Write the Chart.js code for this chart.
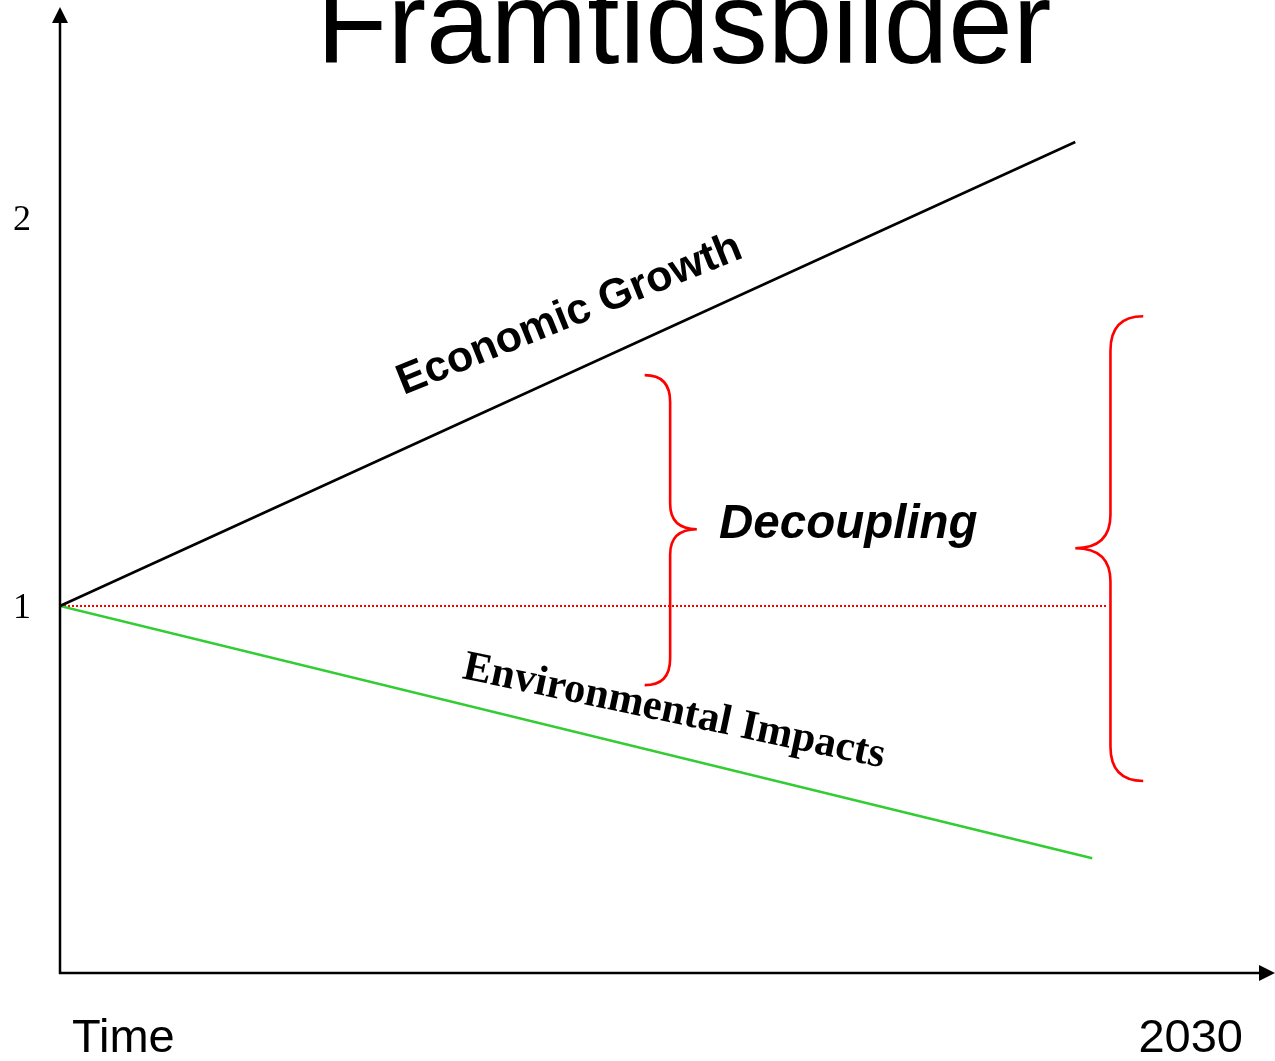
<!DOCTYPE html>
<html>
<head>
<meta charset="utf-8">
<script src="https://cdn.jsdelivr.net/npm/chart.js@4/dist/chart.umd.min.js"></script>
<style>
  html, body { margin: 0; padding: 0; background: #ffffff; }
  #wrap { width: 1275px; height: 1061px; position: relative; }
</style>
</head>
<body>
<div id="wrap"><canvas id="c"></canvas></div>
<script>
// ---- Data ----
const chartTitle = 'Framtidsbilder';
const xEndLabels = ['Time', '2030'];
const yTickValues = [1, 2];

const economicX = [0, 83.7];
const economicY = [1, 2.196];

const environmentX = [0, 85.1];
const environmentY = [1, 0.35];

const baselineX = [0, 86.4];
const baselineY = [1, 1];

// Decoupling braces: value ranges they span
const smallBraceX = [48.2, 50.3, 52.5];   // tip, spine, point
const smallBraceY = [1.595, 1.198, 0.796]; // top, middle, bottom
const largeBraceX = [89.3, 86.6, 83.7];
const largeBraceY = [1.747, 1.149, 0.549];

const seriesLabels = ['Economic Growth', 'Environmental Impacts', 'Decoupling'];

const toPoints = (xs, ys) => xs.map((x, i) => ({ x: x, y: ys[i] }));

const decorPlugin = {
  id: 'decor',
  afterDatasetsDraw(chart) {
    const ctx = chart.ctx;
    const xs = chart.scales.x, ys = chart.scales.y;
    const ca = chart.chartArea;
    const W = chart.width;
    ctx.save();

    // Axes with arrows
    ctx.strokeStyle = '#000';
    ctx.fillStyle = '#000';
    ctx.lineWidth = 2.5;
    const ox = ca.left, oy = ca.bottom;
    ctx.beginPath();
    ctx.moveTo(ox, oy + 1);
    ctx.lineTo(ox, ca.top + 14);
    ctx.stroke();
    ctx.beginPath();
    ctx.moveTo(ox, ca.top);
    ctx.lineTo(ox - 8, ca.top + 16);
    ctx.lineTo(ox + 8, ca.top + 16);
    ctx.closePath();
    ctx.fill();
    ctx.beginPath();
    ctx.moveTo(ox - 1, oy);
    ctx.lineTo(W - 12, oy);
    ctx.stroke();
    ctx.beginPath();
    ctx.moveTo(W, oy);
    ctx.lineTo(W - 16, oy - 8);
    ctx.lineTo(W - 16, oy + 8);
    ctx.closePath();
    ctx.fill();

    // Y tick labels
    ctx.font = '36px "Liberation Serif", "Times New Roman", serif';
    ctx.textAlign = 'center';
    ctx.textBaseline = 'middle';
    yTickValues.forEach(v => {
      ctx.fillText(String(v), 22, ys.getPixelForValue(v) + 3);
    });

    // X end labels
    ctx.font = '47px "Liberation Sans", Arial, sans-serif';
    ctx.textBaseline = 'alphabetic';
    ctx.textAlign = 'left';
    ctx.fillText(xEndLabels[0], 72, 1052);
    ctx.textAlign = 'right';
    ctx.fillText(xEndLabels[1], 1243, 1052);

    // Title
    ctx.font = '116px "Liberation Sans", Arial, sans-serif';
    ctx.textAlign = 'center';
    ctx.fillText(chartTitle, 684, 63);

    // Braces
    ctx.strokeStyle = '#ff0000';
    ctx.lineWidth = 2.6;
    const brace = (bx, by) => {
      const tip = xs.getPixelForValue(bx[0]);
      const sp = xs.getPixelForValue(bx[1]);
      const pt = xs.getPixelForValue(bx[2]);
      const top = ys.getPixelForValue(by[0]);
      const mid = ys.getPixelForValue(by[1]);
      const bot = ys.getPixelForValue(by[2]);
      const r = Math.abs(sp - tip) * 1.05;
      const r2 = Math.abs(pt - sp) * 0.95;
      ctx.beginPath();
      ctx.moveTo(tip, top);
      ctx.quadraticCurveTo(sp, top, sp, top + r);
      ctx.lineTo(sp, mid - r2);
      ctx.quadraticCurveTo(sp, mid, pt, mid);
      ctx.quadraticCurveTo(sp, mid, sp, mid + r2);
      ctx.lineTo(sp, bot - r);
      ctx.quadraticCurveTo(sp, bot, tip, bot);
      ctx.stroke();
    };
    brace(smallBraceX, smallBraceY);
    brace(largeBraceX, largeBraceY);

    // Line labels
    ctx.fillStyle = '#000';
    ctx.save();
    ctx.translate(574, 326);
    ctx.rotate(-22 * Math.PI / 180);
    ctx.font = 'bold 43px "Liberation Sans", Arial, sans-serif';
    ctx.textAlign = 'center';
    ctx.textBaseline = 'alphabetic';
    ctx.fillText(seriesLabels[0], 0, 0);
    ctx.restore();

    ctx.save();
    ctx.translate(674, 712);
    ctx.rotate(12 * Math.PI / 180);
    ctx.font = 'bold 42.5px "Liberation Serif", "Times New Roman", serif';
    ctx.textAlign = 'center';
    ctx.textBaseline = 'middle';
    ctx.fillText(seriesLabels[1], 0, 0);
    ctx.restore();

    ctx.font = 'italic bold 47.5px "Liberation Sans", Arial, sans-serif';
    ctx.textAlign = 'left';
    ctx.textBaseline = 'alphabetic';
    ctx.fillText(seriesLabels[2], 719, 538);

    ctx.restore();
  }
};

new Chart(document.getElementById('c'), {
  type: 'line',
  data: {
    datasets: [
      {
        label: seriesLabels[0],
        data: toPoints(economicX, economicY),
        borderColor: '#000000',
        borderWidth: 2.5,
        pointRadius: 0
      },
      {
        label: seriesLabels[1],
        data: toPoints(environmentX, environmentY),
        borderColor: '#33cc33',
        borderWidth: 2.5,
        pointRadius: 0
      },
      {
        label: 'Baseline',
        data: toPoints(baselineX, baselineY),
        borderColor: '#ff0000',
        borderWidth: 2,
        borderDash: [2, 2],
        pointRadius: 0
      }
    ]
  },
  options: {
    responsive: true,
    maintainAspectRatio: false,
    animation: false,
    layout: { padding: { left: 60, top: 7, right: 2, bottom: 88 } },
    plugins: { legend: { display: false }, tooltip: { enabled: false } },
    scales: {
      x: { type: 'linear', min: 0, max: 100, display: false },
      y: { type: 'linear', min: 0.054, max: 2.544, display: false }
    }
  },
  plugins: [decorPlugin]
});
</script>
</body>
</html>
